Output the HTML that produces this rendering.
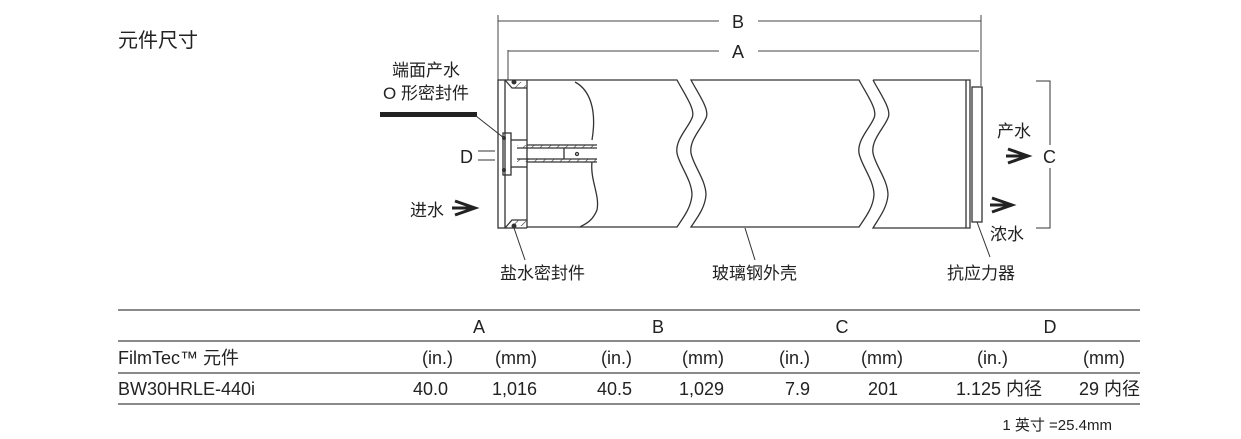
<!DOCTYPE html>
<html><head><meta charset="utf-8"><style>
html,body{margin:0;padding:0;background:#fff;width:1241px;height:439px;overflow:hidden}
text{font-family:"Liberation Sans","Noto Sans CJK SC",sans-serif;fill:#222}
</style></head><body>
<svg width="1241" height="439" viewBox="0 0 1241 439" xmlns="http://www.w3.org/2000/svg">
<defs>
<pattern id="h" width="6" height="6" patternUnits="userSpaceOnUse" patternTransform="rotate(45)"><line x1="0" y1="0" x2="0" y2="6" stroke="#333" stroke-width="1.2"/></pattern>
</defs>
<text x="118" y="47" font-size="20">元件尺寸</text>
<g stroke="#444" stroke-width="1" fill="none">
<line x1="498" y1="15" x2="498" y2="80"/><line x1="981" y1="15" x2="981" y2="86"/>
<line x1="498" y1="21" x2="719" y2="21"/><line x1="758" y1="21" x2="981" y2="21"/>
<line x1="508" y1="50" x2="508" y2="80"/>
<line x1="508" y1="51" x2="719" y2="51"/><line x1="758" y1="51" x2="979" y2="51"/>
</g>
<text x="738" y="28" font-size="18" text-anchor="middle">B</text>
<text x="738" y="58" font-size="18" text-anchor="middle">A</text>
<g stroke="#333" stroke-width="1.3" fill="none">
<!-- body segments -->
<path d="M527 80 H677 C685 95 696 110 692 118 C688 128 675 140 677 153 C679 165 692 180 692 195 C691 208 683 218 677 227 H527"/>
<path d="M691 80 H859 C867 95 878 110 874 118 C870 128 857 140 859 153 C861 165 874 180 874 195 C873 208 865 218 859 227 H691 C697 218 705 208 706 195 C706 180 693 165 691 153 C689 140 702 128 706 118 C710 110 699 95 691 80Z"/>
<path d="M873 80 H970 V228 H873 C879 218 887 208 888 195 C888 180 875 165 873 153 C871 140 884 128 888 118 C892 110 881 95 873 80"/>
<line x1="966" y1="80" x2="966" y2="228"/>
<rect x="972" y="87" width="10" height="135"/>
<!-- cutaway curve -->
<path d="M575 82 C590 90 597 110 592 140 M592 162 C590 180 600 195 597 210 C592 222 585 224 580 227"/>
<!-- endcap -->
<rect x="498" y="80" width="7" height="148"/>
<line x1="505" y1="80" x2="527" y2="80"/><line x1="505" y1="228" x2="527" y2="228"/>
<line x1="527" y1="80" x2="527" y2="228"/>
<path d="M505 80 L512 88 H527"/><path d="M505 228 L512 220 H527"/>
<rect x="503" y="133" width="8" height="42"/>
<line x1="511" y1="140" x2="527" y2="140"/><line x1="511" y1="167" x2="527" y2="167"/>
<line x1="527" y1="145" x2="597" y2="145"/><line x1="527" y1="162" x2="597" y2="162"/>
<line x1="517" y1="148" x2="597" y2="148"/><line x1="517" y1="159" x2="597" y2="159"/>
<line x1="564" y1="148" x2="564" y2="159"/>
<circle cx="577" cy="154" r="1.5"/>
</g>
<rect x="517" y="145" width="80" height="3" fill="url(#h)"/>
<rect x="517" y="159" width="80" height="3" fill="url(#h)"/>
<rect x="512" y="82" width="14" height="6" fill="url(#h)"/>
<rect x="512" y="220" width="14" height="6" fill="url(#h)"/>
<circle cx="514" cy="82" r="2.5" fill="#333"/><circle cx="514" cy="226" r="2.5" fill="#333"/>
<circle cx="504" cy="138" r="2" fill="#333"/><circle cx="504" cy="170" r="2" fill="#333"/>
<!-- left labels -->
<text x="392" y="76" font-size="17">端面产水</text>
<text x="383" y="99" font-size="17">O 形密封件</text>
<rect x="380" y="112" width="97" height="5" fill="#222"/>
<line x1="476" y1="116" x2="504" y2="138" stroke="#333"/>
<text x="460" y="163" font-size="18">D</text>
<line x1="478" y1="151" x2="495" y2="151" stroke="#333"/><line x1="478" y1="160" x2="495" y2="160" stroke="#333"/>
<text x="410" y="216" font-size="17">进水</text>
<path d="M455 201 L475 208 L455 215 M452 208 H474" stroke="#222" stroke-width="3" fill="none"/>
<line x1="514" y1="228" x2="525" y2="260" stroke="#333"/>
<text x="500" y="279" font-size="17">盐水密封件</text>
<line x1="745" y1="228" x2="755" y2="260" stroke="#333"/>
<text x="712" y="279" font-size="17">玻璃钢外壳</text>
<line x1="977" y1="222" x2="990" y2="257" stroke="#333"/>
<text x="947" y="279" font-size="17">抗应力器</text>
<text x="997" y="137" font-size="17">产水</text>
<path d="M1008 149 L1028 156 L1008 163 M1006 156 H1027" stroke="#222" stroke-width="3" fill="none"/>
<text x="1043" y="163" font-size="18">C</text>
<path d="M1036 81 H1050 V145 M1050 168 V228 H1036" stroke="#333" fill="none"/>
<path d="M992 198 L1012 205 L992 212 M990 205 H1011" stroke="#222" stroke-width="3" fill="none"/>
<text x="990" y="240" font-size="17">浓水</text>
<!-- table -->
<g stroke="#444" stroke-width="1.2">
<line x1="118" y1="310" x2="1140" y2="310"/><line x1="118" y1="341" x2="1140" y2="341"/>
<line x1="118" y1="373" x2="1140" y2="373"/><line x1="118" y1="404" x2="1140" y2="404"/>
</g>
<g font-size="18">
<text x="479" y="333" text-anchor="middle">A</text>
<text x="658" y="333" text-anchor="middle">B</text>
<text x="842" y="333" text-anchor="middle">C</text>
<text x="1050" y="333" text-anchor="middle">D</text>
<text x="118" y="364">FilmTec™ 元件</text>
<text x="118" y="395">BW30HRLE-440i</text>
<g text-anchor="end">
<text x="453" y="364">(in.)</text><text x="537" y="364">(mm)</text>
<text x="632" y="364">(in.)</text><text x="724" y="364">(mm)</text>
<text x="810" y="364">(in.)</text><text x="903" y="364">(mm)</text>
<text x="1008" y="364">(in.)</text><text x="1125" y="364">(mm)</text>
<text x="448" y="395">40.0</text><text x="537" y="395">1,016</text>
<text x="632" y="395">40.5</text><text x="724" y="395">1,029</text>
<text x="810" y="395">7.9</text><text x="898" y="395">201</text>
<text x="1042" y="395">1.125 内径</text><text x="1140" y="395">29 内径</text>
</g>
</g>
<text x="1112" y="430" font-size="15" text-anchor="end">1 英寸 =25.4mm</text>
</svg>
</body></html>
